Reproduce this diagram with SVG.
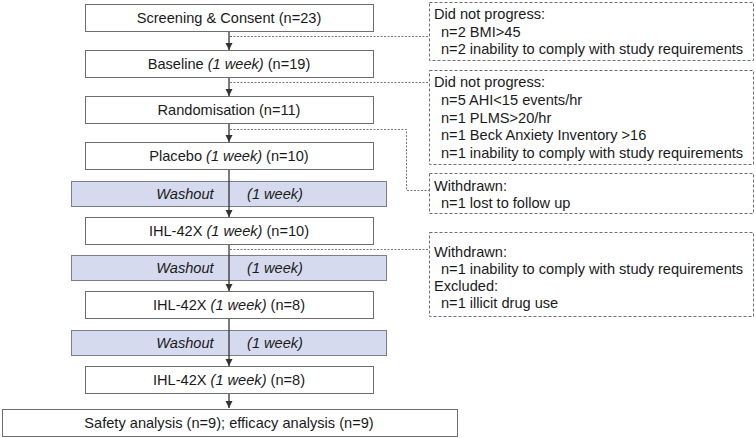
<svg xmlns="http://www.w3.org/2000/svg" width="756" height="438" viewBox="0 0 756 438">
<defs>
<marker id="ah" markerWidth="8" markerHeight="8" refX="7" refY="4" orient="auto" markerUnits="userSpaceOnUse"><path d="M0,0.5 L7,4 L0,7.5 z" fill="#333"/></marker>
<style>
text{font-family:"Liberation Sans",Arial,sans-serif;font-size:14.6px;fill:#1a1a1a}
.c{text-anchor:middle}
.i{font-style:italic}
.box{fill:#fff;stroke:#6e6e6e;stroke-width:1}
.wash{fill:#d6daee;stroke:#7d7d8a;stroke-width:1}
.note{fill:#fff;stroke:#6e6e6e;stroke-width:1;stroke-dasharray:3,2}
.flow{stroke:#333;stroke-width:1.3;fill:none}
.dot{stroke:#777;stroke-width:1;stroke-dasharray:2,1.5;fill:none}
</style>
</defs>
<g id="washouts">
<g id="washout1"><rect class="wash" x="71.5" y="181.5" width="315" height="25"/><text class="i" x="185" y="199" text-anchor="middle">Washout</text><text class="i" x="275" y="199" text-anchor="middle">(1 week)</text></g>
<g id="washout2"><rect class="wash" x="71.5" y="255.5" width="315" height="25"/><text class="i" x="185" y="273" text-anchor="middle">Washout</text><text class="i" x="275" y="273" text-anchor="middle">(1 week)</text></g>
<g id="washout3"><rect class="wash" x="71.5" y="330.5" width="315" height="25"/><text class="i" x="185" y="348" text-anchor="middle">Washout</text><text class="i" x="275" y="348" text-anchor="middle">(1 week)</text></g>
</g>
<g id="connectors">
<path class="flow" d="M229,32 V50" marker-end="url(#ah)"/>
<path class="flow" d="M229,78 V96" marker-end="url(#ah)"/>
<path class="flow" d="M229,124 V142" marker-end="url(#ah)"/>
<path class="flow" d="M229,170 V217" marker-end="url(#ah)"/>
<path class="flow" d="M229,245 V291" marker-end="url(#ah)"/>
<path class="flow" d="M229,319 V366" marker-end="url(#ah)"/>
<path class="flow" d="M229,393 V408" marker-end="url(#ah)"/>
<path class="dot" d="M230,36.5 H429"/>
<path class="dot" d="M230,82.5 H429"/>
<path class="dot" d="M230,129.5 H406.5 V190.5 H429"/>
<path class="dot" d="M230,249.5 H429"/>
</g>
<g id="screening"><rect class="box" x="85.5" y="4.5" width="288" height="27"/><text class="c" x="229" y="23">Screening &amp; Consent (n=23)</text></g>
<g id="baseline"><rect class="box" x="85.5" y="50.5" width="288" height="27"/><text class="c" x="229" y="69">Baseline <tspan class="i">(1 week)</tspan> (n=19)</text></g>
<g id="randomisation"><rect class="box" x="85.5" y="96.5" width="288" height="27"/><text class="c" x="229" y="115">Randomisation (n=11)</text></g>
<g id="placebo"><rect class="box" x="85.5" y="142.5" width="288" height="27"/><text class="c" x="229" y="161">Placebo <tspan class="i">(1 week)</tspan> (n=10)</text></g>
<g id="ihl1"><rect class="box" x="85.5" y="217.5" width="288" height="27"/><text class="c" x="229" y="236">IHL-42X <tspan class="i">(1 week)</tspan> (n=10)</text></g>
<g id="ihl2"><rect class="box" x="85.5" y="291.5" width="288" height="27"/><text class="c" x="229" y="310">IHL-42X <tspan class="i">(1 week)</tspan> (n=8)</text></g>
<g id="ihl3"><rect class="box" x="85.5" y="366.5" width="288" height="27"/><text class="c" x="229" y="385">IHL-42X <tspan class="i">(1 week)</tspan> (n=8)</text></g>
<g id="analysis"><rect class="box" x="2.5" y="409.5" width="455" height="27"/><text class="c" x="229" y="428">Safety analysis (n=9); efficacy analysis (n=9)</text></g>
<g id="note1"><rect class="note" x="429.5" y="2.5" width="324" height="58"/>
<text x="434" y="19">Did not progress:</text><text x="441" y="36.5">n=2 BMI&gt;45</text><text x="441" y="54">n=2 inability to comply with study requirements</text></g>
<g id="note2"><rect class="note" x="429.5" y="70.5" width="324" height="94"/>
<text x="434" y="87">Did not progress:</text><text x="441" y="105">n=5 AHI&lt;15 events/hr</text><text x="441" y="122.5">n=1 PLMS&gt;20/hr</text><text x="441" y="140">n=1 Beck Anxiety Inventory &gt;16</text><text x="441" y="157.5">n=1 inability to comply with study requirements</text></g>
<g id="note3"><rect class="note" x="429.5" y="173.5" width="324" height="40"/>
<text x="434" y="191">Withdrawn:</text><text x="441" y="208">n=1 lost to follow up</text></g>
<g id="note4"><rect class="note" x="429.5" y="232.5" width="324" height="84"/>
<text x="434" y="257">Withdrawn:</text><text x="441" y="274">n=1 inability to comply with study requirements</text><text x="434" y="291">Excluded:</text><text x="441" y="308">n=1 illicit drug use</text></g>
</svg>
